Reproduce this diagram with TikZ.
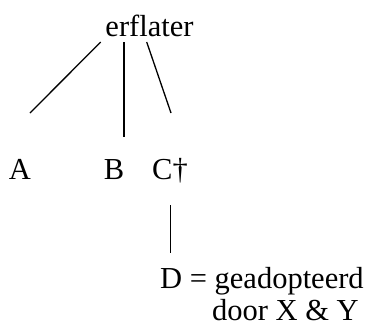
\documentclass[tikz,border=0pt]{standalone}
\usepackage{fontspec}
\setmainfont{Liberation Serif}
\usepackage{tikz}
\usetikzlibrary{positioning}
\definecolor{lineColor}{RGB}{0, 0, 0}
\definecolor{textColor}{RGB}{0, 0, 0}
\tikzset{
    tree_label/.style={
        inner sep=0pt,
        text=textColor,
        font=\fontsize{30.5}{32.5}\selectfont
    },
    tree_edge/.style={
        draw=lineColor,
        line width=1.3pt
    }
}
\begin{document}
\begin{tikzpicture}[x=1pt, y=-1pt]
        \useasboundingbox (0,0) rectangle (370,325);
        \node[tree_label, anchor=base] (erflater) at (149.5,36) {erflater};
        \node[tree_label, anchor=base] (A) at (20,179) {A};
        \node[tree_label, anchor=base] (B) at (114,179) {B};
        \node[tree_label, anchor=base west] (C) at (152,179) {C†};
        \node[tree_label, anchor=base west, align=left] (D) at (160,320.5)
            {D = geadopteerd \\ \hspace*{52pt}door X \& Y};

        % takken vanaf de erflater
        \draw[tree_edge] ([xshift=-48.8pt, yshift=-6pt]erflater.base) -- ([xshift=10pt, yshift=66pt]A.base);
        \draw[tree_edge] ([xshift=-25.5pt, yshift=-6pt]erflater.base) -- ([xshift=10pt, yshift=42.3pt]B.base);
        \draw[tree_edge] ([xshift=-2.8pt, yshift=-6pt]erflater.base) -- ([xshift=19pt, yshift=66pt]C.base west);
        % C naar D
        \draw[tree_edge] ([xshift=18.7pt, yshift=-26pt]C.base west) -- ([xshift=10.7pt, yshift=67.5pt]D.base west);
    \end{tikzpicture}
\end{document}
